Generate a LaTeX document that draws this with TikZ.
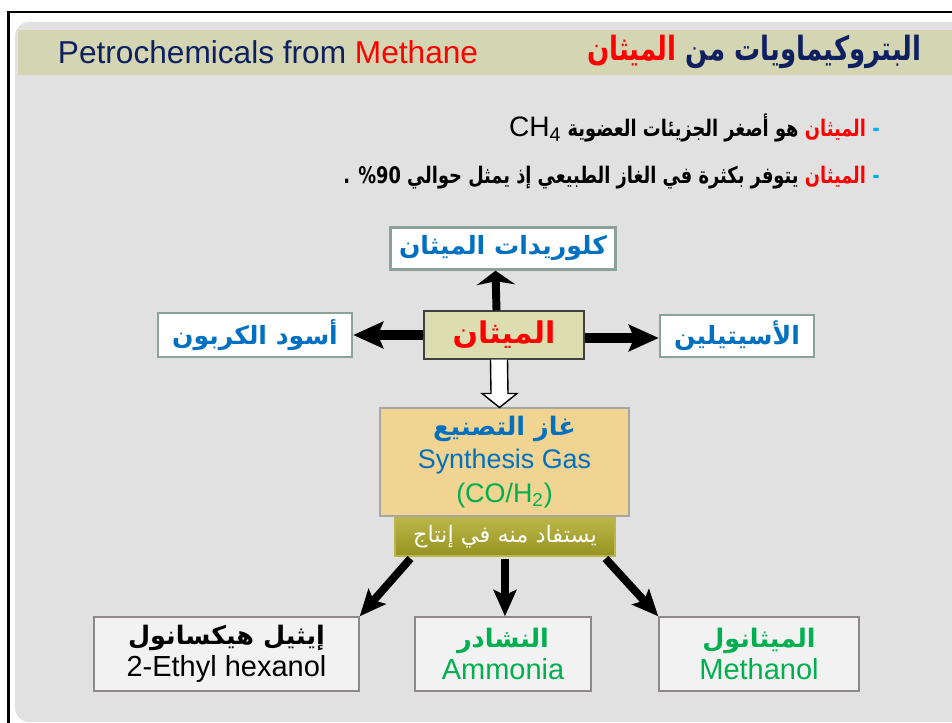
\documentclass[tikz,border=0pt]{standalone}
\usepackage{fontspec}
\setmainfont{Liberation Sans}
\newfontfamily\arabicfont[Script=Arabic]{DejaVu Sans}
\newfontfamily\arabicnarrow[Script=Arabic,FakeStretch=0.78]{DejaVu Sans}
\TeXXeTstate=1
\definecolor{pcnavy}{RGB}{14,32,96}
\definecolor{pcred}{RGB}{255,0,0}
\definecolor{pcblue}{RGB}{0,112,192}
\definecolor{pcsky}{RGB}{0,176,240}
\definecolor{pcgreen}{RGB}{0,176,80}
\definecolor{pcpanel}{RGB}{225,225,225}
\definecolor{pcband}{RGB}{212,213,178}
\definecolor{pcframe}{RGB}{140,162,152}
\definecolor{pcolive}{RGB}{221,221,178}
\definecolor{pcsand}{RGB}{241,212,146}
\definecolor{pcbar}{RGB}{150,146,34}
\definecolor{pcbarlight}{RGB}{186,183,72}
\definecolor{pcgrey}{RGB}{242,242,242}
\definecolor{pcedge}{RGB}{140,136,140}
\usetikzlibrary{arrows.meta,calc}

\begin{document}
\begin{tikzpicture}[every node/.style={inner sep=0pt},
  prodbox/.style={draw=pcframe,line width=1.4pt,fill=white,minimum height=0.84cm,
    text=pcblue,font=\arabicfont\bfseries\fontsize{14.3}{18}\selectfont},
  endbox/.style={draw=pcedge,line width=0.8pt,fill=pcgrey,minimum height=1.48cm,
    align=center,font=\fontsize{16.5}{18}\selectfont},
  fatarrow/.style={line width=5.5pt,-{Stealth[length=17pt,width=15pt,inset=3pt]}},
  uparrow/.style={line width=4.5pt,-{Stealth[length=8pt,width=22pt,inset=2pt]}},
  downarrow/.style={line width=4.5pt,-{Stealth[length=15pt,width=13pt,inset=3pt]}}]
  \useasboundingbox (0,0) rectangle (19.04,14.46);

  % Frame and panel
  \draw[line width=1.5pt] (0.17,0) -- (0.17,14.22) -- (19.04,14.22);
  \fill[pcpanel,rounded corners=8pt] (0.3,0.02) rectangle (19.4,14.02);
  % Header band
  \fill[pcband] (0.36,12.96) rectangle (19.04,13.86);
  \node[font=\fontsize{18}{20}\selectfont,text=pcnavy] (titleen) at (5.36,13.42)
    {Petrochemicals from \textcolor{pcred}{Methane}};
  \node[anchor=east,font=\arabicnarrow\bfseries\fontsize{19}{22}\selectfont] (titlear) at (18.44,13.42)
    {\textcolor{pcred}{\beginR الميثان\endR} \textcolor{pcnavy}{\beginR البتروكيماويات من\endR}};

  % Bullet lines
  \node[anchor=east,font=\arabicnarrow\bfseries\fontsize{13}{16}\selectfont] (lineone) at (17.6,11.9)
    {{\normalfont\fontsize{16}{18}\selectfont CH\textsubscript{4}} \beginR هو أصغر الجزيئات العضوية\endR\ \textcolor{pcred}{\beginR الميثان\endR} \textcolor{pcsky}{-}};
  \node[anchor=east,font=\arabicnarrow\bfseries\fontsize{13}{16}\selectfont] (linetwo) at (17.6,10.9)
    {. \%90 \beginR يتوفر بكثرة في الغاز الطبيعي إذ يمثل حوالي\endR\ \textcolor{pcred}{\beginR الميثان\endR} \textcolor{pcsky}{-}};

  % Methane and its first products
  \node[draw=black!75,line width=0.6pt,fill=pcolive,minimum width=3.2cm,minimum height=0.96cm,
    text=pcred,font=\arabicfont\bfseries\fontsize{17}{20}\selectfont] (meth) at (10.08,7.76) {\beginR الميثان\endR};
  \node[prodbox,minimum width=4.5cm] (chlor) at (10.06,9.49) {\beginR كلوريدات الميثان\endR};
  \node[prodbox,minimum width=3.88cm,minimum height=0.88cm] (carbon) at (5.10,7.76) {\beginR أسود الكربون\endR};
  \node[prodbox,minimum width=3.08cm] (acet) at (14.74,7.74) {\beginR الأسيتيلين\endR};

  \draw[uparrow] ([xshift=-0.15cm]meth.north) -- ([xshift=-0.15cm]chlor.south);
  \draw[fatarrow] (meth.west) -- (carbon.east);
  \draw[fatarrow] ([yshift=-0.06cm]meth.east) -- ([yshift=-0.06cm]meth.east -| acet.west);

  % Synthesis gas
  \node[draw=black!35,line width=0.6pt,fill=pcsand,minimum width=4.98cm,minimum height=2.16cm,
    align=center,font=\fontsize{15.3}{19}\selectfont] (syngas) at (10.09,5.22)
    {{\arabicfont\bfseries\color{pcblue}\fontsize{14.5}{19}\selectfont\beginR غاز التصنيع\endR}\\
     \textcolor{pcblue}{Synthesis Gas}\\
     \textcolor{pcgreen}{(CO/H\textsubscript{2})}};
  \coordinate (hb) at ([xshift=-0.1cm]meth.south);
  \coordinate (ht) at ([xshift=-0.1cm]syngas.north);
  \draw[fill=white,line width=0.8pt] ($(hb)+(-0.17,0)$) -- ($(ht)+(-0.17,0.28)$) -- ($(ht)+(-0.35,0.28)$)
    -- (ht) -- ($(ht)+(0.35,0.28)$) -- ($(ht)+(0.17,0.28)$) -- ($(hb)+(0.17,0)$);

  \node[draw=pcbarlight,line width=0.6pt,top color=pcbarlight,bottom color=pcbar,minimum width=4.4cm,
    minimum height=0.76cm,text=white,font=\arabicfont\fontsize{12.8}{16}\selectfont] (useful) at (10.10,3.72)
    {\beginR يستفاد منه في إنتاج\endR};

  % End products
  \node[endbox,minimum width=5.3cm] (ethyl) at (4.53,1.38)
    {{\arabicfont\bfseries\fontsize{14.5}{18}\selectfont\beginR إيثيل هيكسانول\endR}\\ 2-Ethyl hexanol};
  \node[endbox,minimum width=3.52cm,text=pcgreen] (ammonia) at (10.06,1.38)
    {{\arabicfont\bfseries\fontsize{14.5}{18}\selectfont\beginR النشادر\endR}\\ Ammonia};
  \node[endbox,minimum width=4.0cm,text=pcgreen] (methanol) at (15.18,1.38)
    {{\arabicfont\bfseries\fontsize{14.5}{18}\selectfont\beginR الميثانول\endR}\\ Methanol};

  \draw[downarrow] ([xshift=0.32cm,yshift=-0.04cm]useful.south west) -- (ethyl.north east);
  \draw[downarrow] ([yshift=-0.04cm]useful.south) -- (useful.south |- ammonia.north);
  \draw[downarrow] ([xshift=-0.2cm,yshift=-0.04cm]useful.south east) -- (methanol.north west);
\end{tikzpicture}
\end{document}
